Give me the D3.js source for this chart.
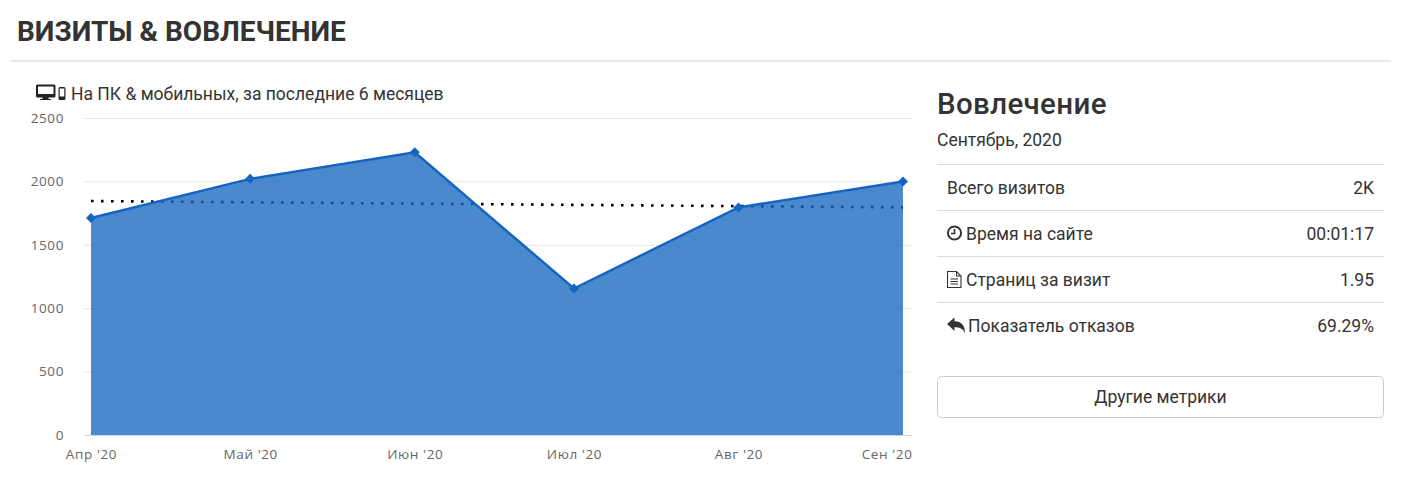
<!DOCTYPE html>
<html><head><meta charset="utf-8">
<script src="https://cdn.jsdelivr.net/npm/d3@7/dist/d3.min.js"></script>
<style>
html,body{margin:0;padding:0;background:#fff;width:1405px;height:491px;overflow:hidden;font-family:Roboto,sans-serif;color:#333}
svg{position:absolute;left:0;top:0}
text{font-family:Roboto,sans-serif}
.tick text{font-family:'Open Sans',sans-serif;letter-spacing:.6px}
</style></head><body>
<svg id="c" width="1405" height="491"></svg>
<script>
const titleText = "ВИЗИТЫ & ВОВЛЕЧЕНИЕ";
const subtitleText = "На ПК & мобильных, за последние 6 месяцев";
const months = ["2020-04-01","2020-05-01","2020-06-01","2020-07-01","2020-08-01","2020-09-01"];
const monthLabels = ["Апр '20","Май '20","Июн '20","Июл '20","Авг '20","Сен '20"];
const visits = [1712,2020,2230,1155,1795,2000];
const trend = [1845,1835,1825,1815,1805,1795];
const yTicks = [0,500,1000,1500,2000,2500];
const panelTitle = "Вовлечение";
const panelDate = "Сентябрь, 2020";
const metricNames = ["Всего визитов","Время на сайте","Страниц за визит","Показатель отказов"];
const metricValues = ["2K","00:01:17","1.95","69.29%"];
const metricIcons = [null,"clock","file","reply"];
const buttonText = "Другие метрики";

const svg = d3.select("#c");
const dates = months.map(d=>new Date(d+"T00:00:00Z"));
const x = d3.scaleUtc().domain([dates[0],dates[5]]).range([91,903]);
const y = d3.scaleLinear().domain([0,2500]).range([435,118]);

// header
svg.append("text").attr("x",17).attr("y",41).attr("font-size",28).attr("font-weight",700).attr("fill","#333").text(titleText);
svg.append("rect").attr("x",11).attr("y",60).attr("width",1380).attr("height",2).attr("fill","#e6e9ed");

// subtitle + device icons
const dev = svg.append("g").attr("fill","#222");
dev.append("path").attr("fill-rule","evenodd").attr("d","M37.500 84.500h16.500a1.500 1.500 0 0 1 1.500 1.500v10a1.500 1.500 0 0 1-1.500 1.500h-5.500v1.500h2.500v1h-11v-1h2.500v-1.500h-5a1.500 1.500 0 0 1-1.500-1.500v-10a1.500 1.500 0 0 1 1.500-1.500zM38 86.500v7.500h15.500v-7.500z");
dev.append("path").attr("fill-rule","evenodd").attr("d","M60 87h4a1.500 1.500 0 0 1 1.500 1.500v10a1.500 1.500 0 0 1-1.500 1.500h-4a1.500 1.500 0 0 1-1.500-1.500v-10a1.500 1.500 0 0 1 1.500-1.500zM59.700 88.500v8h4.600v-8z");
svg.append("text").attr("x",71).attr("y",100).attr("font-size",17.5).attr("fill","#333").text(subtitleText);

// y axis + grid
const yAxis = svg.append("g").attr("transform","translate(84,0)")
  .call(d3.axisLeft(y).tickValues(yTicks).tickSize(-828).tickPadding(20).tickFormat(d3.format("d")));
yAxis.select(".domain").remove();
yAxis.selectAll(".tick line").attr("stroke","#e6e6e6");
yAxis.selectAll(".tick").filter(d=>d===0).select("line").attr("stroke","#ccd6eb");
yAxis.selectAll("text").attr("font-size",13.5).attr("fill","#666");

// area + line
const area = d3.area().x((d,i)=>x(dates[i])).y0(y(0)).y1(d=>y(d));
const line = d3.line().x((d,i)=>x(dates[i])).y(d=>y(d));
// trend drawn under the translucent area
svg.append("path").datum(trend).attr("d",line).attr("fill","none").attr("stroke","#000").attr("stroke-width",2.6).attr("stroke-dasharray","2.6 7.4");
svg.append("path").datum(visits).attr("d",area).attr("fill","#1565c0").attr("fill-opacity",0.77);
svg.append("path").datum(visits).attr("d",line).attr("fill","none").attr("stroke","#1565c0").attr("stroke-width",2.5);
svg.selectAll(".pt").data(visits).join("path").attr("class","pt")
  .attr("d",d3.symbol(d3.symbolSquare,50))
  .attr("transform",(d,i)=>`translate(${x(dates[i])},${y(d)}) rotate(45)`).attr("fill","#1565c0");

// x axis
const xAxis = svg.append("g").attr("transform","translate(0,435)")
  .call(d3.axisBottom(x).tickValues(dates).tickSize(0).tickPadding(14.5).tickFormat((d,i)=>monthLabels[i]));
xAxis.select(".domain").remove();
xAxis.selectAll("text").attr("font-size",13.5).attr("fill","#666");
xAxis.selectAll(".tick").filter((d,i)=>i===5).select("text").attr("text-anchor","end").attr("dx",9);

// right panel
svg.append("text").attr("x",937).attr("y",114).attr("font-size",29.500).attr("font-weight",500).attr("fill","#333").attr("letter-spacing",0.35).text(panelTitle);
svg.append("text").attr("x",937).attr("y",146).attr("font-size",17.5).attr("fill","#333").text(panelDate);

const rowY = d3.scalePoint().domain(metricNames).range([164,302]);
const icons = {
 clock:g=>{g.append("circle").attr("cx",8).attr("cy",8).attr("r",6.6).attr("fill","none").attr("stroke","#333").attr("stroke-width",2);
           g.append("path").attr("d","M8 4v4.500h-3.500").attr("fill","none").attr("stroke","#333").attr("stroke-width",1.6);},
 file:g=>{g.append("path").attr("d","M1 .5h9l4.500 4.500v11.500h-13.500z M10 .5v4.500h4.500 M4 8h7.500 M4 10.500h7.500 M4 13h7.500").attr("fill","none").attr("stroke","#333").attr("stroke-width",1.1);},
 reply:g=>{g.append("path").attr("d","M0 6.500L7.500 0v3.800c6 0 10.500 3 10.500 12.200c-1.500-4.500-5-6.200-10.500-6.200v3.700z").attr("fill","#333");}
};
const rows = svg.selectAll(".row").data(metricNames).join("g").attr("class","row")
  .attr("transform",d=>`translate(0,${rowY(d)})`);
rows.append("rect").attr("x",937).attr("y",0).attr("width",447).attr("height",1).attr("fill","#dcdcdc");
rows.each(function(d,i){
  const g = d3.select(this);
  const ic = metricIcons[i];
  const tx = ic===null?947:(ic==="reply"?968:966);
  g.append("text").attr("x",tx).attr("y",30).attr("font-size",17.5).attr("fill","#333").text(d);
  g.append("text").attr("x",1374).attr("y",30).attr("text-anchor","end").attr("font-size",17.5).attr("fill","#333").text(metricValues[i]);
  if(ic){ const ig=g.append("g").attr("transform",`translate(${ic==="reply"?947:946.5},${ic==="reply"?15.500:15})`); icons[ic](ig); }
});

// button
svg.append("rect").attr("x",937.500).attr("y",376.500).attr("width",446).attr("height",41).attr("rx",4).attr("fill","#fff").attr("stroke","#ccc");
svg.append("text").attr("x",1160.500).attr("y",403).attr("text-anchor","middle").attr("font-size",17.5).attr("fill","#333").text(buttonText);
</script>
</body></html>
